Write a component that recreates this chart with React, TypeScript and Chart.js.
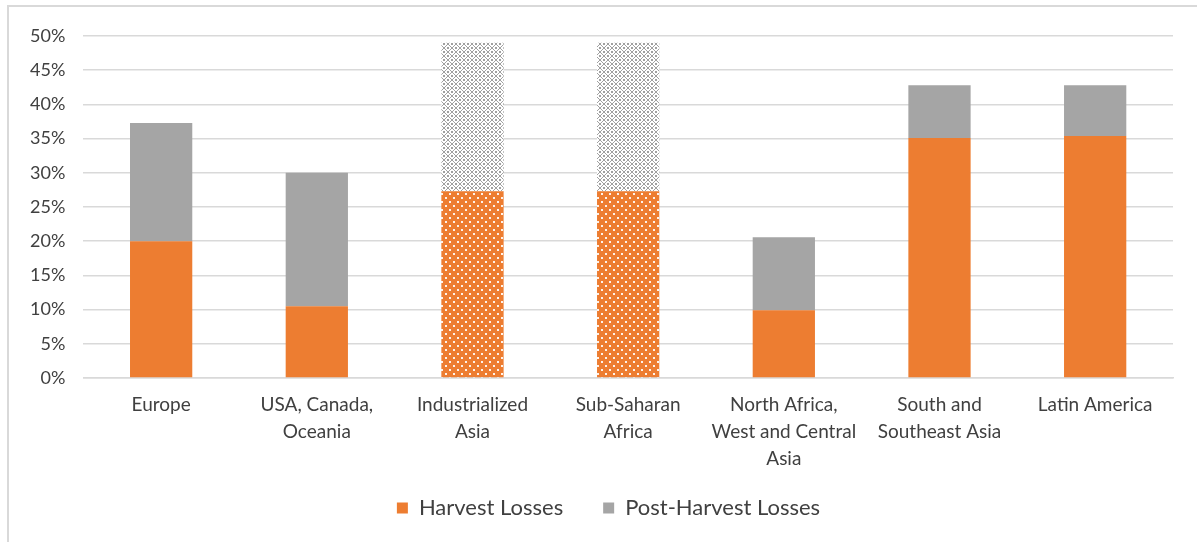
import React, { useEffect, useRef } from "react";
import { Chart, registerables } from "chart.js";

Chart.register(...registerables);

const categories: (string | string[])[] = [
  "Europe",
  ["USA, Canada,", "Oceania"],
  ["Industrialized", "Asia"],
  ["Sub-Saharan", "Africa"],
  ["North Africa,", "West and Central", "Asia"],
  ["South and", "Southeast Asia"],
  "Latin America",
];
const harvestLosses = [20.0, 10.5, 27.3, 27.3, 9.9, 35.1, 35.4];
const postHarvestLosses = [17.3, 19.5, 21.7, 21.7, 10.7, 7.7, 7.4];
const patternedBars = [false, false, true, true, false, false, false];
const seriesNames = ["Harvest Losses", "Post-Harvest Losses"];

const ORANGE = "#ED7D31";
const GRAY = "#A5A5A5";
const FONT = "Lato, 'Open Sans', sans-serif";

function makeDotPattern(): CanvasPattern | string {
  const c = document.createElement("canvas");
  c.width = 8;
  c.height = 8;
  const g = c.getContext("2d");
  if (!g) return ORANGE;
  g.fillStyle = ORANGE;
  g.fillRect(0, 0, 8, 8);
  g.fillStyle = "rgba(255,255,255,0.9)";
  g.fillRect(1, 1, 2, 2);
  g.fillRect(5, 5, 2, 2);
  const p = g.createPattern(c, "repeat");
  return p || ORANGE;
}

function makeLatticePattern(): CanvasPattern | string {
  const c = document.createElement("canvas");
  c.width = 8;
  c.height = 8;
  const g = c.getContext("2d");
  if (!g) return GRAY;
  g.fillStyle = "#ffffff";
  g.fillRect(0, 0, 8, 8);
  g.fillStyle = "#a0a0a0";
  const pts = [
    [0, 3], [1, 2], [2, 1], [3, 0],
    [4, 0], [5, 1], [6, 2], [7, 3],
    [0, 4], [1, 5], [2, 6], [3, 7],
    [4, 7], [5, 6], [6, 5], [7, 4],
    [3, 3], [4, 4], [3, 4], [4, 3],
    [0, 0], [7, 7], [0, 7], [7, 0],
  ];
  for (const [x, y] of pts) g.fillRect(x, y, 1, 1);
  const p = g.createPattern(c, "repeat");
  return p || GRAY;
}

const legendShift = {
  id: "legendShift",
  afterLayout(chart: any) {
    if (chart.legend) {
      chart.legend.left += 16;
      chart.legend.right += 16;
    }
  },
};

export default function App() {
  const ref = useRef<HTMLCanvasElement>(null);

  useEffect(() => {
    if (!ref.current) return;
    const dots = makeDotPattern();
    const lattice = makeLatticePattern();
    const chart = new Chart(ref.current, {
      type: "bar",
      data: {
        labels: categories,
        datasets: [
          {
            label: seriesNames[0],
            data: harvestLosses,
            backgroundColor: patternedBars.map((p) => (p ? dots : ORANGE)) as any,
            borderWidth: 0,
            barPercentage: 0.4,
            categoryPercentage: 1,
          },
          {
            label: seriesNames[1],
            data: postHarvestLosses,
            backgroundColor: patternedBars.map((p) => (p ? lattice : GRAY)) as any,
            borderWidth: 0,
            barPercentage: 0.4,
            categoryPercentage: 1,
          },
        ],
      },
      plugins: [legendShift],
      options: {
        animation: false,
        responsive: false,
        maintainAspectRatio: false,
        layout: { padding: { left: 12, right: 24, top: 36, bottom: 13 } },
        scales: {
          x: {
            stacked: true,
            grid: { display: false, drawTicks: false },
            border: { display: true, color: "#d9d9d9", width: 1.5 },
            ticks: {
              color: "#404040",
              font: { family: FONT, size: 19, lineHeight: 1.42 },
              padding: 13,
              maxRotation: 0,
              autoSkip: false,
            },
            afterFit: (scale: any) => {
              scale.height -= 28;
              scale._computeLabelArea = () => undefined;
            },
          },
          y: {
            stacked: true,
            min: 0,
            max: 50,
            grid: { color: "#d9d9d9", lineWidth: 1.5, drawTicks: false },
            border: { display: false },
            ticks: {
              stepSize: 5,
              color: "#404040",
              font: { family: FONT, size: 18 },
              padding: 18,
              callback: (v: any) => v + "%",
            },
          },
        },
        plugins: {
          legend: {
            position: "bottom",
            labels: {
              boxWidth: 11,
              boxHeight: 11,
              padding: 40,
              color: "#404040",
              font: { family: FONT, size: 22 },
              generateLabels: () =>
                seriesNames.map((name, i) => ({
                  text: name,
                  fillStyle: i === 0 ? ORANGE : GRAY,
                  strokeStyle: "rgba(0,0,0,0)",
                  lineWidth: 0,
                  hidden: false,
                  datasetIndex: i,
                  fontColor: "#404040",
                })),
            },
          },
          tooltip: { enabled: false },
        },
      },
    });
    return () => chart.destroy();
  }, []);

  return (
    <div style={{ position: "fixed", left: 0, top: 0, width: 1197, height: 542, background: "#fff" }}>
      <canvas ref={ref} width={1197} height={542} style={{ position: "absolute", left: 0, top: 0 }} />
      <div style={{ position: "absolute", left: 7, top: 5, width: 1190, height: 2, background: "#d9d9d9" }} />
      <div style={{ position: "absolute", left: 7, top: 5, width: 2, height: 537, background: "#d9d9d9" }} />
    </div>
  );
}
